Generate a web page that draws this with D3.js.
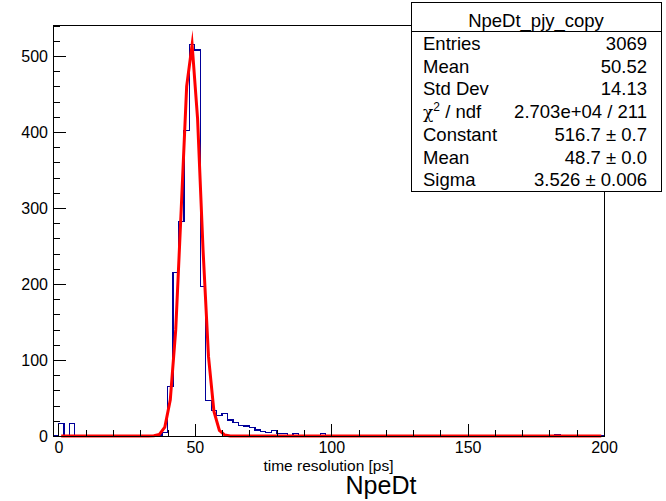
<!DOCTYPE html>
<html>
<head>
<meta charset="utf-8">
<script src="https://cdn.jsdelivr.net/npm/d3@7"></script>
<style>
  html, body { margin: 0; padding: 0; background: #fff; }
  svg { display: block; }
  text { font-family: "Liberation Sans", Arial, Helvetica, sans-serif; }
</style>
</head>
<body>
<svg id="chart" width="666" height="501"></svg>
<script>
// ---------------- data ----------------
const xAxisMin = -2;          // histogram axis range
const xAxisMax = 200;
const binWidth = 2;
// counts per bin, bin k covers [xAxisMin + k*binWidth, xAxisMin + (k+1)*binWidth)
const counts = [
  0, 16, 0, 16, 0, 0, 0, 0, 0, 0,        // -2 .. 18
  0, 0, 0, 0, 0, 0, 0, 0, 0, 0,          // 18 .. 38
  5, 65, 215, 282, 402, 515, 508, 197, 47, 34,   // 38 .. 58
  27, 30, 21, 18, 14, 13, 11, 8, 6, 5,   // 58 .. 78
  7, 3, 3, 0, 3, 0, 0, 0, 0, 3,          // 78 .. 98
  0, 0, 0, 0, 0, 0, 0, 0, 0, 0,          // 98 .. 118
  0, 0, 0, 0, 0, 0, 0, 0, 0, 0,          // 118 .. 138
  0, 0, 0, 0, 0, 0, 0, 0, 0, 0,          // 138 .. 158
  0, 0, 0, 0, 0, 0, 0, 0, 0, 0,          // 158 .. 178
  0, 0, 2, 0, 0, 0, 0, 0, 0, 0,          // 178 .. 198
  0                                      // 198 .. 200
];
const yMax = 540.75;
// Gaussian fit parameters (from stats box)
const fitConstant = 516.7;
const fitMean = 48.7;
const fitSigma = 3.526;
const fitRange = [0, 200];
const fitNpx = 100;

const xMajorTicks = [0, 50, 100, 150, 200];
const yMajorTicks = [0, 100, 200, 300, 400, 500];

const statsTitle = "NpeDt_pjy_copy";
const statsLabels = ["Entries", "Mean", "Std Dev", "CHI", "Constant", "Mean", "Sigma"];
const statsValues = ["3069", "50.52", "14.13", "2.703e+04 / 211", "516.7 \u00b1 0.7", "48.7 \u00b1 0.0", "3.526 \u00b1 0.006"];

const xTitle = "time resolution [ps]";
const histTitle = "NpeDt";

// ---------------- layout ----------------
const L = 53, R = 604, T = 25, B = 436;
const svg = d3.select("#chart");
svg.append("rect").attr("width", 666).attr("height", 501).attr("fill", "#fff");

const x = d3.scaleLinear().domain([xAxisMin, xAxisMax]).range([L, R]);
const y = d3.scaleLinear().domain([0, yMax]).range([B, T]);

// ---------------- histogram ----------------
const pts = [[xAxisMin, 0]];
counts.forEach((c, k) => {
  const lo = xAxisMin + k * binWidth, hi = lo + binWidth;
  pts.push([lo, c]); pts.push([hi, c]);
});
pts.push([xAxisMax, 0]);
svg.append("path")
  .attr("d", d3.line().x(d => x(d[0])).y(d => y(d[1]))(pts))
  .attr("fill", "none")
  .attr("stroke", "#000099")
  .attr("stroke-width", 1.3)
  .attr("shape-rendering", "crispEdges");

// ---------------- fit curve ----------------
const gaus = v => fitConstant * Math.exp(-0.5 * Math.pow((v - fitMean) / fitSigma, 2));
const dxf = (fitRange[1] - fitRange[0]) / fitNpx;
const fitPts = d3.range(fitNpx).map(i => {
  const v = fitRange[0] + (i + 0.5) * dxf;
  return [v, gaus(v)];
});
svg.append("path")
  .attr("d", d3.line().x(d => x(d[0])).y(d => y(d[1]))(fitPts))
  .attr("fill", "none")
  .attr("stroke", "#ff0000")
  .attr("stroke-width", 3)
  .attr("stroke-linejoin", "miter")
  .attr("stroke-miterlimit", 20);

// ---------------- frame & axes ----------------
svg.append("rect")
  .attr("x", L).attr("y", T).attr("width", R - L).attr("height", B - T)
  .attr("fill", "none").attr("stroke", "#000").attr("stroke-width", 1)
  .attr("shape-rendering", "crispEdges");

const fontSize = 16;
const xAxis = d3.axisBottom(x).tickValues(xMajorTicks).tickSize(-12).tickPadding(6).tickFormat(d3.format("d"));
const gx = svg.append("g").attr("transform", `translate(0,${B})`).call(xAxis);
gx.select(".domain").remove();
gx.selectAll("line").attr("stroke", "#000").attr("shape-rendering", "crispEdges");
gx.selectAll("text").attr("font-size", fontSize).attr("fill", "#000")
  .attr("font-family", "'Liberation Sans', Arial, sans-serif");

const xMinor = d3.range(0, xAxisMax + 0.1, 10).filter(v => !xMajorTicks.includes(v));
const xMinorAxis = d3.axisBottom(x).tickValues(xMinor).tickSize(-6).tickFormat("");
const gxm = svg.append("g").attr("transform", `translate(0,${B})`).call(xMinorAxis);
gxm.select(".domain").remove();
gxm.selectAll("line").attr("stroke", "#000").attr("shape-rendering", "crispEdges");

const yAxis = d3.axisLeft(y).tickValues(yMajorTicks).tickSize(-13).tickPadding(5).tickFormat(d3.format("d"));
const gy = svg.append("g").attr("transform", `translate(${L},0)`).call(yAxis);
gy.select(".domain").remove();
gy.selectAll("line").attr("stroke", "#000").attr("shape-rendering", "crispEdges");
gy.selectAll("text").attr("font-size", fontSize).attr("fill", "#000")
  .attr("font-family", "'Liberation Sans', Arial, sans-serif");

const yMinor = d3.range(0, yMax, 20).filter(v => !yMajorTicks.includes(v));
const yMinorAxis = d3.axisLeft(y).tickValues(yMinor).tickSize(-7).tickFormat("");
const gym = svg.append("g").attr("transform", `translate(${L},0)`).call(yMinorAxis);
gym.select(".domain").remove();
gym.selectAll("line").attr("stroke", "#000").attr("shape-rendering", "crispEdges");

// axis title
svg.append("text")
  .attr("x", (L + R) / 2).attr("y", 471)
  .attr("text-anchor", "middle").attr("font-size", 15.5).attr("fill", "#000")
  .text(xTitle);

// histogram title
svg.append("text")
  .attr("x", 381).attr("y", 494)
  .attr("text-anchor", "middle").attr("font-size", 25).attr("fill", "#000")
  .text(histTitle);

// ---------------- stats box ----------------
const bx = 411, by = 2, bw = 250, bh = 189;
const sb = svg.append("g");
sb.append("rect").attr("x", bx + 0.5).attr("y", by + 0.5).attr("width", bw).attr("height", bh)
  .attr("fill", "#fff").attr("stroke", "#000").attr("stroke-width", 1);
sb.append("line").attr("x1", bx).attr("x2", bx + bw).attr("y1", 31.5).attr("y2", 31.5)
  .attr("stroke", "#000").attr("stroke-width", 1);
sb.append("text").attr("x", bx + bw / 2).attr("y", 26.5).attr("text-anchor", "middle")
  .attr("font-size", 18.5).attr("fill", "#000").text(statsTitle);

const rowY0 = 50, rowDy = 22.7;
statsLabels.forEach((lab, i) => {
  const t = sb.append("text").attr("x", 423).attr("y", rowY0 + i * rowDy)
    .attr("font-size", 18.5).attr("fill", "#000");
  if (lab === "CHI") {
    t.append("tspan").attr("font-family", "'DejaVu Serif', 'Liberation Serif', serif").attr("font-size", 17).text("\u03c7");
    t.append("tspan").attr("font-size", 12).attr("dy", -7).text("2");
    t.append("tspan").attr("dy", 7).text(" / ndf");
  } else {
    t.text(lab);
  }
  sb.append("text").attr("x", 647).attr("y", rowY0 + i * rowDy).attr("text-anchor", "end")
    .attr("font-size", 18.5).attr("fill", "#000").text(statsValues[i]);
});
</script>
</body>
</html>
